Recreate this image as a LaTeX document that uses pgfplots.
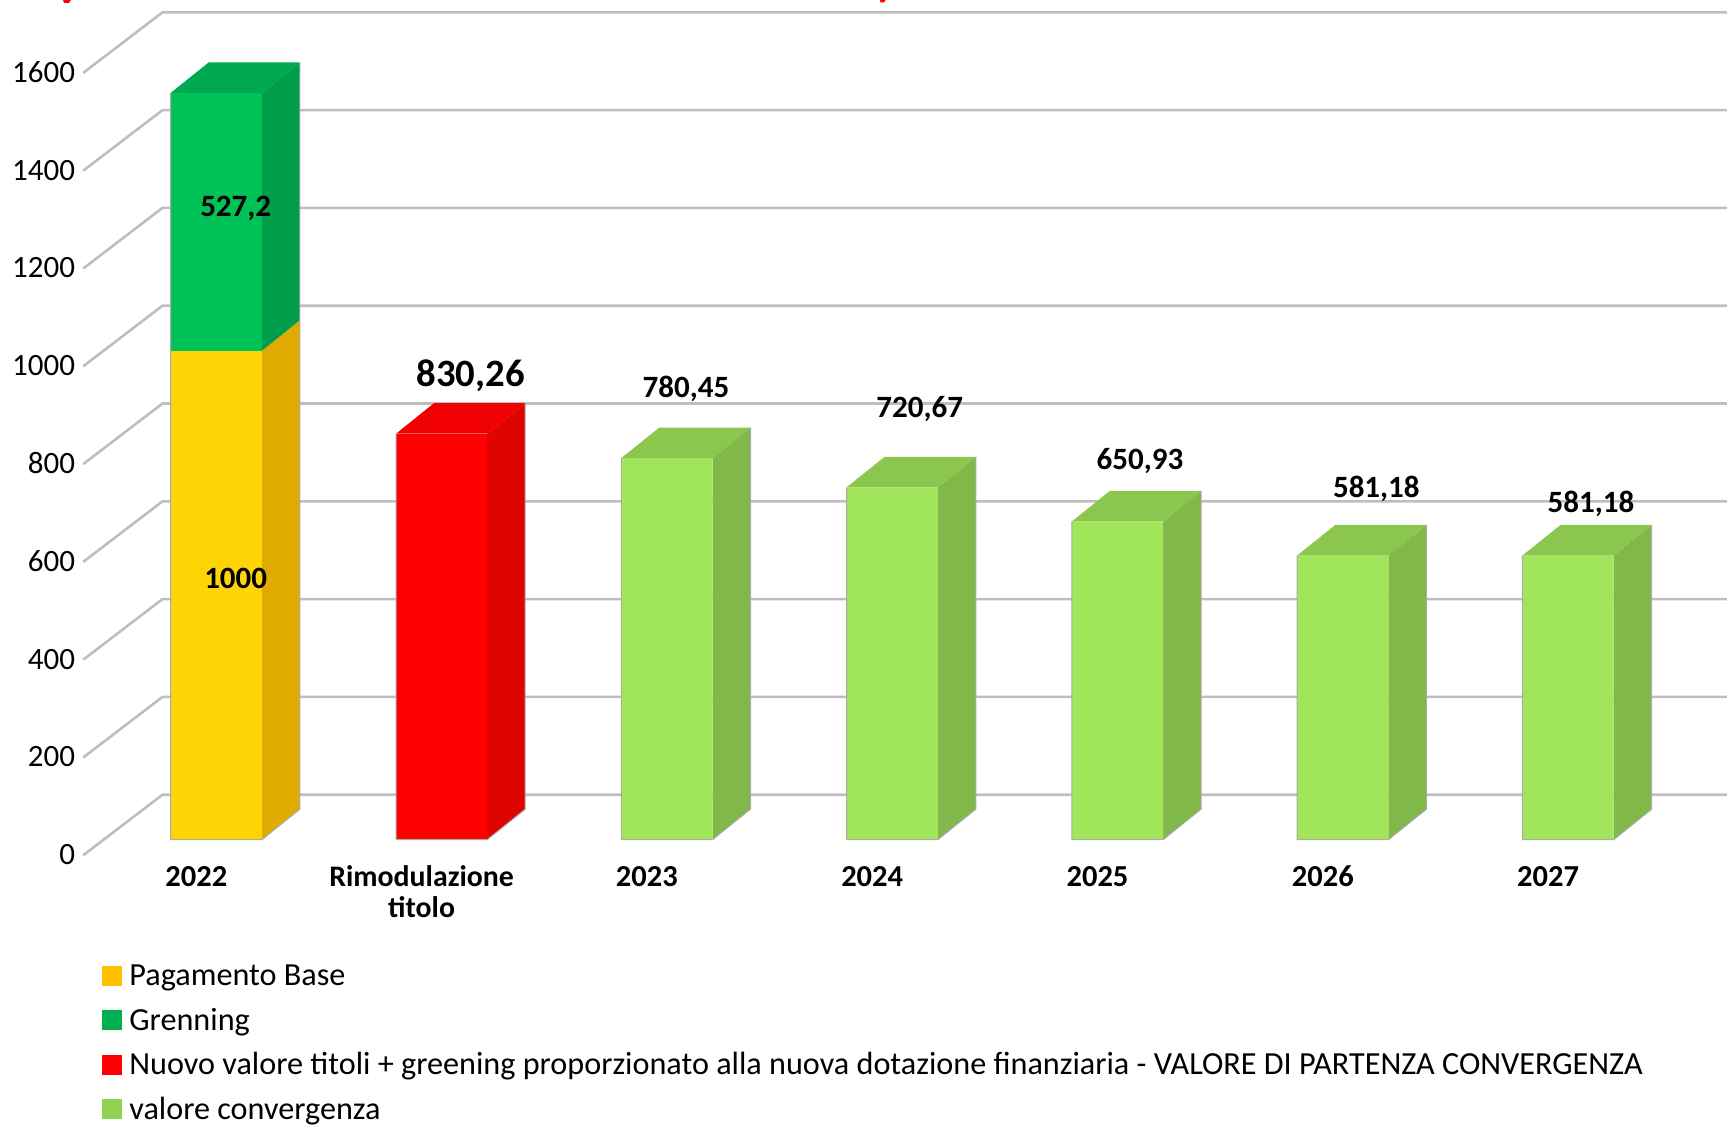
\documentclass[border=0pt]{standalone}
\usepackage{fontspec}
\setmainfont{Carlito}
\usepackage{pgfplots}
\pgfplotsset{compat=1.18}
\definecolor{gridc}{HTML}{BEBEBE}
\definecolor{edgec}{HTML}{ABABAB}
\definecolor{yF}{HTML}{FFD405}\definecolor{yS}{HTML}{E0AB00}
\definecolor{gF}{HTML}{00C257}\definecolor{gS}{HTML}{009E4A}\definecolor{gT}{HTML}{00A850}
\definecolor{rF}{HTML}{FF0000}\definecolor{rS}{HTML}{E00400}\definecolor{rT}{HTML}{F00000}
\definecolor{cF}{HTML}{A0E55A}\definecolor{cS}{HTML}{80B84A}\definecolor{cT}{HTML}{8BC64F}
\definecolor{lY}{HTML}{FFC000}\definecolor{lG}{HTML}{00B050}\definecolor{lR}{HTML}{FF0000}\definecolor{lC}{HTML}{92D050}
\newcommand{\sideface}[4]{% index, base, top, colour
  \pgfmathsetmacro\xr{#1+0.2024}\pgfmathsetmacro\xb{#1+0.3711}%
  \pgfmathsetmacro\yb{#2+62.4}\pgfmathsetmacro\yt{#3+62.4}%
  \addplot[fill=#4,draw=none,forget plot] coordinates {(\xr,#2)(\xb,\yb)(\xb,\yt)(\xr,#3)(\xr,#2)};}
\newcommand{\topface}[3]{% index, top, colour
  \pgfmathsetmacro\xl{#1-0.2024}\pgfmathsetmacro\xr{#1+0.2024}%
  \pgfmathsetmacro\xb{#1+0.3711}\pgfmathsetmacro\xc{#1-0.0337}\pgfmathsetmacro\yt{#2+62.4}%
  \addplot[fill=#3,draw=none,forget plot] coordinates {(\xl,#2)(\xr,#2)(\xb,\yt)(\xc,\yt)(\xl,#2)};}
\newcommand{\edges}[2]{% index, top: left, bottom and outer side edges
  \pgfmathsetmacro\xl{#1-0.2024}\pgfmathsetmacro\xr{#1+0.2024}%
  \pgfmathsetmacro\xb{#1+0.3711}\pgfmathsetmacro\yt{#2+62.4}%
  \addplot[draw=edgec,line width=1pt,line join=round,forget plot] coordinates {(\xl,#2)(\xl,0)(\xr,0)(\xb,62.4)(\xb,\yt)};}
\newcommand{\gridl}[2]{\addplot[draw=gridc,line width=2.6pt,line join=round,forget plot] coordinates {(-0.5908,#1)(-0.2388,#2)(6.7053,#2)};}
\newcommand{\lab}[4]{\node[anchor=base,inner sep=0pt,font=\fontsize{#1}{#1}\selectfont\bfseries] at (#2pt,#3pt) {#4};}
\newcommand{\twol}{\fontsize{29.8}{31.5}\selectfont\vtop{\halign{\hfil##\hfil\cr Rimodulazione\cr titolo\cr}}}
\pgfplotsset{common/.style={
  at={(83.2pt,269.7pt)},anchor=south west,scale only axis,
  width=1643.8pt,height=855.3pt,
  xmin=-0.5908,xmax=6.7053,ymin=-31.9,ymax=1717.2,clip=false}}
\begin{document}
\begin{tikzpicture}[x=1pt,y=1pt]
\useasboundingbox (0,0) rectangle (1727,1125);
\clip (0,0) rectangle (1727,1125);
\fill[red] (63,1125) -- (71,1125) -- (69,1122) -- (64,1122) -- cycle;
\fill[red] (880,1125) -- (885.5,1125) -- (884,1122.5) -- (880.5,1122.5) -- cycle;
\begin{axis}[common,
  axis line style={draw=none},tick style={draw=none},
  xtick={0,1,2,3,4,5,6},
  xticklabels={2022,\twol,2023,2024,2025,2026,2027},
  x tick label style={font=\fontsize{30.5}{29.5}\selectfont\bfseries,anchor=base,inner sep=0pt,yshift=-30.7pt,xshift=-20pt},
  ytick={0,200,400,600,800,1000,1200,1400,1600},
  y tick label style={font=\fontsize{31}{31}\selectfont,anchor=east,inner sep=0pt,yshift=-15pt,xshift=-8pt},
  /pgf/number format/assume math mode=true,
  /pgf/number format/1000 sep={},
  legend cell align=left,
  legend image code/.code={\fill[#1] (0pt,-6.6pt) rectangle (19pt,12.4pt);},
  legend style={draw=none,fill=none,inner sep=0pt,outer sep=0pt,
    at={(19.3pt,-108.6pt)},anchor=north west,
    font=\fontsize{32.2}{32}\selectfont,
    nodes={inner sep=0pt,text height=22pt,text depth=7pt},
    /tikz/row sep=15.5pt,/tikz/column sep=7.5pt},
]
\addlegendimage{lY}\addlegendentry{Pagamento Base}
\addlegendimage{lG}\addlegendentry{Grenning}
\addlegendimage{lR}\addlegendentry{Nuovo valore titoli + greening proporzionato alla nuova dotazione finanziaria - VALORE DI PARTENZA CONVERGENZA}
\addlegendimage{lC}\addlegendentry{valore convergenza}
\gridl{-31.9}{92}
\gridl{168.1}{292}
\gridl{368.1}{492}
\gridl{568.1}{692}
\gridl{768.1}{892}
\gridl{968.1}{1092}
\gridl{1168.1}{1292}
\gridl{1368.1}{1492}
\gridl{1568.1}{1692}
\sideface{0}{0}{1000}{yS}
\sideface{0}{1000}{1527.2}{gS}
\topface{0}{1527.2}{gT}
\sideface{1}{0}{830.26}{rS}
\topface{1}{830.26}{rT}
\sideface{2}{0}{780.45}{cS}
\topface{2}{780.45}{cT}
\sideface{3}{0}{720.67}{cS}
\topface{3}{720.67}{cT}
\sideface{4}{0}{650.93}{cS}
\topface{4}{650.93}{cT}
\sideface{5}{0}{581.18}{cS}
\topface{5}{581.18}{cT}
\sideface{6}{0}{581.18}{cS}
\topface{6}{581.18}{cT}
\addplot[ybar,bar width=91.2pt,bar shift=0pt,fill=rF,draw=none,forget plot] coordinates {(1,830.26)};
\addplot[ybar,bar width=91.2pt,bar shift=0pt,fill=cF,draw=none,forget plot] coordinates {(2,780.45)(3,720.67)(4,650.93)(5,581.18)(6,581.18)};
\end{axis}
\begin{axis}[common,hide axis,ybar stacked,bar width=91.2pt]
\addplot[fill=yF,draw=none] coordinates {(0,1000)};
\addplot[fill=gF,draw=none] coordinates {(0,527.2)};
\end{axis}
\begin{axis}[common,hide axis]
\edges{0}{1527.2}
\edges{1}{830.26}
\edges{2}{780.45}
\edges{3}{720.67}
\edges{4}{650.93}
\edges{5}{581.18}
\edges{6}{581.18}
\end{axis}
\lab{31}{235.7}{908.5}{527,2}
\lab{38.7}{470.7}{738.5}{830,26}
\lab{31}{686}{727.3}{780,45}
\lab{31}{919.7}{707.5}{720,67}
\lab{31}{1140}{655.5}{650,93}
\lab{31}{1376.3}{627}{581,18}
\lab{31}{1591}{612.7}{581,18}
\lab{31}{235.7}{536.3}{1000}
\end{tikzpicture}
\end{document}
